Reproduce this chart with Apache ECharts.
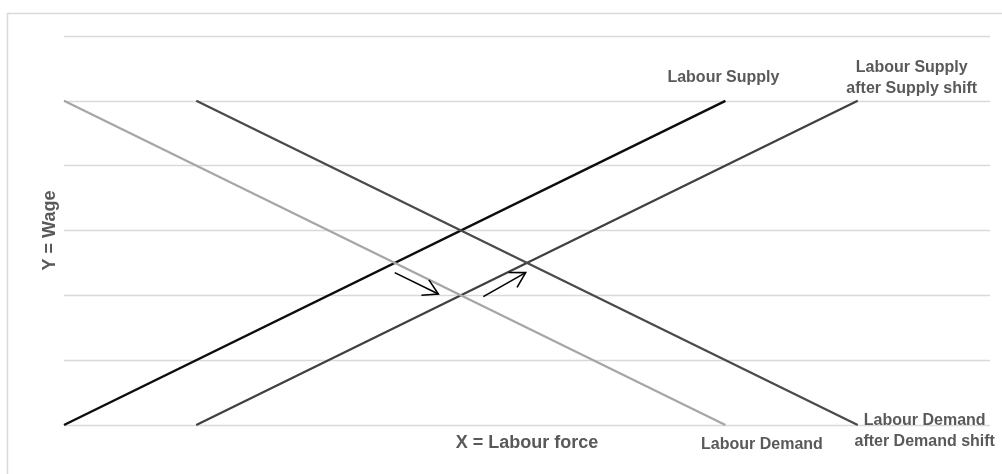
<!DOCTYPE html>
<html><head><meta charset="utf-8">
<script src="https://cdn.jsdelivr.net/npm/echarts@6/dist/echarts.min.js"></script>
<style>html,body{margin:0;padding:0;background:#fff}#c{width:1002px;height:474px}</style>
</head><body><div id="c"></div>
<script>
// Data (x = labour force units, y = wage units)
const supply      = [[0, 0], [5, 5]];
const supplyShift = [[1, 0], [6, 5]];
const demand      = [[0, 5], [5, 0]];
const demandShift = [[1, 5], [6, 0]];
// arrows: [xStart, yStart, xEnd, yEnd]
const arrows = [[2.50, 2.35, 2.83, 2.02], [3.17, 1.98, 3.49, 2.35]];
const seriesNames = ['Labour Supply', 'Labour Supply\nafter Supply shift', 'Labour Demand', 'Labour Demand\nafter Demand shift'];
const xTitle = 'X = Labour force';
const yTitle = 'Y = Wage';

const FONT = '"Liberation Sans", Arial, sans-serif';
const labelBase = {show: true, color: '#595959', fontFamily: FONT, fontWeight: 'bold', fontSize: 16, lineHeight: 21, align: 'center', verticalAlign: 'middle'};

function lineSeries(data, name, color, width, pos) {
  return {
    type: 'line', name: name, silent: true,
    symbol: 'circle', symbolSize: 0, showSymbol: true,
    lineStyle: {color: color, width: width}, itemStyle: {color: color},
    data: [data[0], {value: data[1], label: Object.assign({}, labelBase, {formatter: name, position: pos})}],
    z: 3
  };
}

const chart = echarts.init(document.getElementById('c'), null, {renderer: 'canvas'});
chart.setOption({
  animation: false,
  backgroundColor: '#fff',
  grid: {left: 64, right: 12, top: 36, bottom: 49},
  graphic: [{type: 'rect', shape: {x: 7.5, y: 13.5, width: 1100, height: 600}, style: {fill: 'none', stroke: '#d9d9d9', lineWidth: 1.5}, silent: true}],
  xAxis: {
    type: 'value', min: 0, max: 7,
    axisLine: {show: false}, axisTick: {show: false}, axisLabel: {show: false}, splitLine: {show: false},
    name: xTitle, nameLocation: 'middle', nameGap: 9,
    nameTextStyle: {color: '#595959', fontFamily: FONT, fontWeight: 'bold', fontSize: 18}
  },
  yAxis: {
    type: 'value', min: 0, max: 6, interval: 1,
    axisLine: {show: false}, axisTick: {show: false}, axisLabel: {show: false},
    splitLine: {show: true, lineStyle: {color: '#d9d9d9', width: 1.3}},
    name: yTitle, nameLocation: 'middle', nameGap: 5, nameRotate: 90,
    nameTextStyle: {color: '#595959', fontFamily: FONT, fontWeight: 'bold', fontSize: 18}
  },
  series: [
    lineSeries(supply, seriesNames[0], '#0d0d0d', 2.5, [-2, -23]),
    lineSeries(supplyShift, seriesNames[1], '#404040', 2.3, [54, -22.5]),
    lineSeries(demand, seriesNames[2], '#a6a6a6', 2.3, [36.5, 20]),
    lineSeries(demandShift, seriesNames[3], '#4a4a4a', 2.3, [67, 6.5]),
    {
      type: 'custom', silent: true, z: 5,
      data: arrows,
      encode: {x: [0, 2], y: [1, 3]},
      renderItem: function (params, api) {
        const p1 = api.coord([api.value(0), api.value(1)]);
        const p2 = api.coord([api.value(2), api.value(3)]);
        const ang = Math.atan2(p2[1] - p1[1], p2[0] - p1[0]);
        const L = 17, a = Math.PI / 6;
        const h1 = [p2[0] - L * Math.cos(ang - a), p2[1] - L * Math.sin(ang - a)];
        const h2 = [p2[0] - L * Math.cos(ang + a), p2[1] - L * Math.sin(ang + a)];
        const st = {stroke: '#000', lineWidth: 1.6, fill: 'none'};
        return {type: 'group', children: [
          {type: 'line', shape: {x1: p1[0], y1: p1[1], x2: p2[0], y2: p2[1]}, style: st},
          {type: 'polyline', shape: {points: [h1, p2, h2]}, style: st}
        ]};
      }
    }
  ]
});
</script></body></html>
